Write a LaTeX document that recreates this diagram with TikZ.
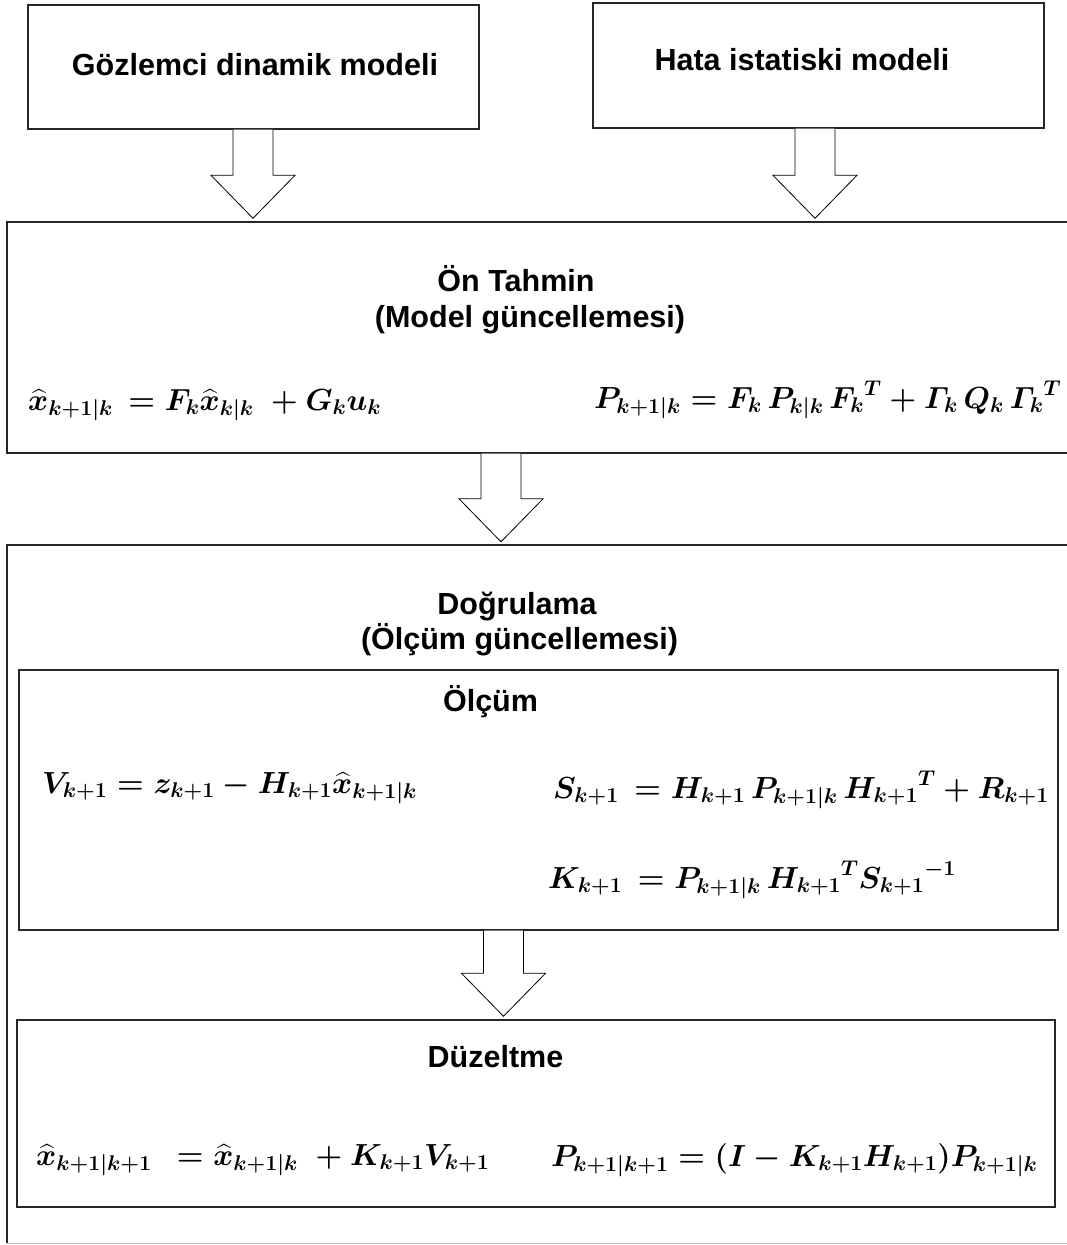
\RequirePackage{fix-cm}
\documentclass[tikz,border=0pt]{standalone}
\usepackage{amsmath}
\usepackage{fontspec}
\setmainfont{Liberation Sans}
\usetikzlibrary{calc}
\newcommand\xh{\widehat{x}}
\newcommand\blockarr[3]{%
  \draw[barrow] let \p1=(#1,0 |- #2), \p2=(#1,0 |- #3) in
    (\x1-20pt,\y1) -- (\x1-20pt,\y2+46pt) -- (\x1-42pt,\y2+46pt) -- (\x1,\y2+3pt)
    -- (\x1+42pt,\y2+46pt) -- (\x1+20pt,\y2+46pt) -- (\x1+20pt,\y1);}
\begin{document}
\begin{tikzpicture}[x=1pt,y=-1pt,
  box/.style={draw=black!85, line width=1.4pt, rectangle, inner sep=0pt},
  barrow/.style={draw=black, line width=0.8pt, fill=white, line join=miter},
  ttl/.style={font=\fontsize{30.5}{36}\selectfont\bfseries, inner sep=0pt},
  eq/.style={font=\fontsize{30.5}{36}\selectfont\mathversion{bold}, anchor=west, inner sep=0pt}]
\useasboundingbox (0,0) rectangle (1067,1245);
\clip (0,0) rectangle (1067,1245);

% top boxes
\node[box, minimum width=451pt, minimum height=124pt] (b1) at (253.5,67) {};
\node[ttl] (t1) at (255,65) {Gözlemci dinamik modeli};
\node[box, minimum width=451pt, minimum height=125pt] (b2) at (818.5,65.5) {};
\node[ttl] (t2) at (802,60) {Hata istatiski modeli};

% prediction box
\node[box, minimum width=1083pt, minimum height=231pt] (b3) at (548.5,337.5) {};
\node[ttl] (t3a) at (516,279) {Ön Tahmin};
\node[ttl] (t3b) at (530,320) {(Model güncellemesi)};
\node[eq] (e1) at (28,405) {$\xh_{k+1|k}\, = F_k\xh_{k|k}\; + G_k u_k$};
\node[eq] (e2) at (594,400) {$P_{k+1|k} = F_k\, P_{k|k}\, {F_k}^{T} + \varGamma_k\, Q_k\, {\varGamma_k}^{T}$};

% update box (open on the right)
\node[inner sep=0pt, minimum width=1083pt, minimum height=698pt] (b4) at (548.5,894) {};
\draw[black!85, line width=1.4pt] (b4.south west) -- (b4.north west) -- (b4.north east);
\draw[black!25, line width=1.4pt] (b4.south west) -- (b4.south east);
\node[ttl] (t4a) at (517,607) {Doğrulama};
\node[ttl] (t4b) at (519.5,640) {(Ölçüm güncellemesi)};

% measurement box
\node[box, minimum width=1039pt, minimum height=260pt] (b5) at (538.5,800) {};
\node[ttl] (t5) at (490.5,702) {Ölçüm};
\node[eq] (e3) at (42,788) {$V_{k+1} = z_{k+1} - H_{k+1}\xh_{k+1|k}$};
\node[eq] (e4) at (553,790) {$S_{k+1}\, = H_{k+1}\, P_{k+1|k}\, {H_{k+1}}^{T} + R_{k+1}$};
\node[eq] (e5) at (548,880) {$K_{k+1}\, = P_{k+1|k}\, {H_{k+1}}^{T} {S_{k+1}}^{-1}$};

% correction box
\node[box, minimum width=1038pt, minimum height=187pt] (b6) at (536,1113.5) {};
\node[ttl] (t6) at (495.5,1057) {Düzeltme};
\node[eq] (e6) at (36,1160) {$\xh_{k+1|k+1}\;\, = \xh_{k+1|k}\; + K_{k+1}V_{k+1}$};
\node[eq] (e7) at (551,1160) {$P_{k+1|k+1} = (I - K_{k+1}H_{k+1})P_{k+1|k}$};

% block arrows
\blockarr{253}{b1.south}{b3.north}
\blockarr{815}{b2.south}{b3.north}
\blockarr{501}{b3.south}{b4.north}
\blockarr{503.5}{b5.south}{b6.north}
\end{tikzpicture}
\end{document}
